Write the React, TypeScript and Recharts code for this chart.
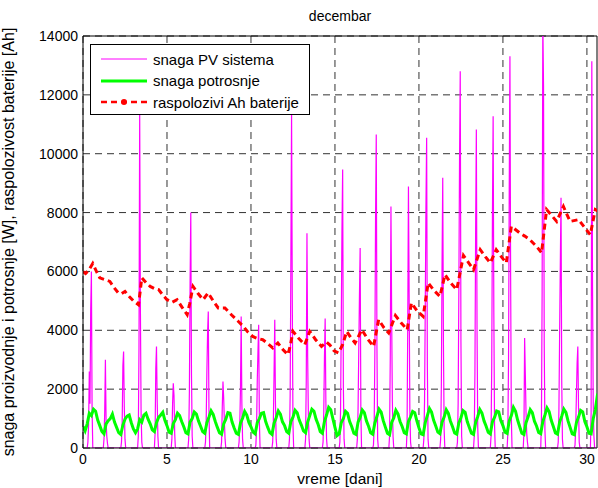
import { LineChart, Line, XAxis, YAxis, CartesianGrid, ReferenceLine, Label } from 'recharts';

// PV power per day, hourly values from 05:00 to 14:00 (zero outside)
const PV_FIRST_HOUR = 5;
const pvByDay: number[][] = [
  [0, 0, 200, 800, 2600, 1500, 4700, 6000, 1300, 0],
  [0, 300, 1200, 3000, 900, 400, 150, 0, 0, 0],
  [0, 0, 200, 900, 2800, 3280, 1400, 300, 0, 0],
  [0, 0, 400, 3400, 11400, 4800, 1200, 200, 0, 0],
  [0, 0, 500, 2700, 3450, 1600, 400, 0, 0, 0],
  [0, 0, 300, 1500, 2200, 1800, 500, 0, 0, 0],
  [0, 0, 300, 1900, 5600, 8000, 2500, 400, 0, 0],
  [0, 0, 200, 900, 2600, 3900, 4640, 1200, 0, 0],
  [0, 200, 1400, 2260, 1700, 900, 300, 0, 0, 0],
  [0, 0, 200, 800, 2000, 4470, 1500, 300, 0, 0],
  [0, 0, 100, 700, 2300, 3300, 4190, 900, 0, 0],
  [0, 0, 200, 900, 2600, 4360, 1500, 300, 0, 0],
  [0, 0, 300, 1800, 6400, 11400, 5200, 800, 0, 0],
  [0, 300, 2300, 7300, 3100, 1100, 300, 0, 0, 0],
  [0, 0, 200, 1200, 3100, 4400, 1600, 300, 0, 0],
  [0, 0, 200, 1300, 4200, 7400, 9460, 2100, 300, 0],
  [0, 0, 0, 300, 1300, 3300, 5200, 6800, 1200, 0],
  [0, 0, 100, 700, 3200, 7800, 10650, 3400, 300, 0],
  [0, 400, 3000, 8210, 4500, 1600, 400, 0, 0, 0],
  [0, 0, 600, 4200, 8890, 5200, 1300, 200, 0, 0],
  [0, 0, 300, 1600, 4700, 8200, 10540, 2800, 300, 0],
  [0, 0, 300, 2100, 6200, 9180, 3500, 600, 0, 0],
  [0, 0, 200, 1500, 5300, 9800, 12800, 3600, 400, 0],
  [0, 0, 400, 2600, 7400, 10820, 4000, 700, 0, 0],
  [0, 0, 400, 2800, 7900, 11270, 4600, 800, 0, 0],
  [0, 0, 500, 3000, 8800, 13310, 5800, 1000, 0, 0],
  [0, 500, 3740, 2500, 1200, 500, 200, 0, 0, 0],
  [0, 0, 900, 5300, 14500, 12300, 3500, 600, 0, 0],
  [0, 0, 200, 1300, 3900, 6300, 8500, 2300, 300, 0],
  [0, 0, 100, 700, 1800, 2900, 3450, 1400, 200, 0],
  [0, 1200, 13140, 5500, 1500, 400, 0, 0, 0, 0],
];

// consumption per day, every 3 hours (00, 03, ... 21)
const loadByDay: number[][] = [
  [730, 580, 820, 1180, 1100, 1320, 1250, 950],
  [760, 560, 480, 820, 930, 1000, 1150, 880],
  [700, 520, 460, 780, 980, 1080, 1120, 860],
  [650, 520, 650, 960, 880, 1120, 1180, 980],
  [820, 620, 560, 860, 1040, 1120, 1210, 940],
  [760, 540, 500, 830, 960, 1180, 1100, 900],
  [720, 520, 480, 880, 1000, 1220, 1150, 920],
  [740, 560, 500, 860, 1050, 1260, 1140, 900],
  [700, 520, 470, 820, 980, 1200, 1180, 880],
  [680, 500, 460, 840, 1010, 1240, 1120, 870],
  [720, 540, 480, 860, 1000, 1180, 1200, 900],
  [700, 520, 460, 840, 1030, 1260, 1150, 890],
  [760, 560, 500, 900, 1050, 1280, 1200, 950],
  [780, 580, 520, 880, 1100, 1320, 1250, 980],
  [800, 560, 500, 900, 1120, 1380, 1300, 1000],
  [700, 420, 480, 860, 1000, 1250, 1180, 900],
  [720, 500, 460, 880, 1040, 1290, 1200, 920],
  [740, 520, 470, 850, 1080, 1320, 1220, 930],
  [710, 500, 450, 870, 1020, 1280, 1160, 900],
  [730, 520, 480, 900, 1060, 1240, 1200, 920],
  [690, 480, 450, 860, 1100, 1340, 1220, 940],
  [750, 540, 490, 880, 1050, 1300, 1180, 910],
  [720, 510, 470, 850, 1030, 1270, 1210, 900],
  [700, 500, 460, 870, 1070, 1310, 1190, 920],
  [740, 530, 480, 890, 1040, 1260, 1230, 930],
  [760, 540, 500, 920, 1100, 1380, 1250, 950],
  [720, 500, 460, 860, 1060, 1300, 1200, 910],
  [750, 530, 490, 900, 1120, 1360, 1240, 940],
  [730, 510, 470, 880, 1080, 1320, 1210, 920],
  [700, 480, 450, 860, 1050, 1280, 1230, 900],
  [720, 500, 480, 1000, 1300, 1800, 1800, 1800],
];

// available battery capacity [Ah], (day, value)
const batteryPoints: [number, number][] = [
  [0, 5990], [0.15, 5930], [0.35, 6050], [0.58, 6270], [0.8, 6000], [1.0, 5780], [1.3, 5720],
  [1.6, 5660], [1.85, 5450], [2.1, 5270], [2.3, 5250], [2.5, 5320], [2.75, 5150], [3.0, 5000],
  [3.3, 4870], [3.4, 5300], [3.5, 5780], [3.75, 5620], [4.0, 5490], [4.25, 5420], [4.5, 5380],
  [4.75, 5200], [5.0, 5040], [5.3, 4950], [5.6, 5040], [5.9, 4780], [6.2, 4530], [6.35, 4900],
  [6.55, 5490], [6.85, 5250], [7.15, 5040], [7.45, 5270], [7.75, 5000], [8.05, 4760], [8.45, 4760],
  [8.85, 4520], [9.25, 4300], [9.55, 4130], [9.8, 3950], [10.1, 3790], [10.4, 3720], [10.7, 3680],
  [11.0, 3550], [11.3, 3400], [11.6, 3570], [11.9, 3350], [12.2, 3170], [12.35, 3500], [12.5, 3960],
  [12.85, 3720], [13.2, 3510], [13.5, 3960], [13.85, 3680], [14.2, 3450], [14.5, 3600], [14.7, 3500],
  [14.95, 3300], [15.2, 3230], [15.45, 3500], [15.7, 3960], [15.95, 3750], [16.2, 3570], [16.6, 4020],
  [16.95, 3700], [17.3, 3450], [17.6, 4360], [17.9, 4100], [18.2, 3910], [18.6, 4500], [18.95, 4250],
  [19.3, 4020], [19.55, 4930], [19.9, 4650], [20.25, 4470], [20.55, 5610], [20.9, 5350], [21.25, 5150],
  [21.55, 5890], [21.9, 5600], [22.25, 5380], [22.65, 6540], [22.95, 6300], [23.25, 6060], [23.65, 6740],
  [23.95, 6500], [24.25, 6290], [24.6, 6740], [24.9, 6500], [25.2, 6290], [25.5, 7530], [26.0, 7310],
  [26.3, 7200], [26.6, 7080], [27.0, 6850], [27.3, 6630], [27.6, 8100], [27.9, 7900], [28.2, 7700],
  [28.6, 8210], [28.8, 7950], [29.0, 7700], [29.5, 7760], [29.85, 7500], [30.2, 7250], [30.5, 8100],
  [30.65, 8050],
];

const xTicks = [0, 5, 10, 15, 20, 25, 30];
const yTicks = [0, 2000, 4000, 6000, 8000, 10000, 12000, 14000];
const X_MAX = 30.6;

const pvData = pvByDay.flatMap((row, d) =>
  row.map((v, i) => ({ t: d + (PV_FIRST_HOUR + i) / 24, v }))
);
const loadData = loadByDay.flatMap((row, d) => row.map((v, i) => ({ t: d + (i * 3) / 24, v })));
const batteryData = batteryPoints.map(([t, v]) => ({ t, v }));

const font = '"Liberation Sans", Arial, sans-serif';

function LegendBox() {
  const rows = [
    { label: 'snaga PV sistema', color: '#ff00ff', width: 1, dash: undefined as string | undefined, dot: false },
    { label: 'snaga potrosnje', color: '#00ff00', width: 3, dash: undefined, dot: false },
    { label: 'raspolozivi Ah baterije', color: '#ff0000', width: 2.5, dash: '6 4', dot: true },
  ];
  return (
    <div
      style={{
        position: 'absolute',
        left: 90,
        top: 44,
        width: 220,
        height: 71,
        border: '1px solid #000',
        background: '#fff',
        boxSizing: 'border-box',
        fontSize: 15,
      }}
    >
      {rows.map((r, i) => (
        <div key={r.label} style={{ position: 'absolute', left: 9, top: 4 + i * 21.5, height: 20, display: 'flex', alignItems: 'center' }}>
          <svg width={48} height={20}>
            <line x1={1} y1={10} x2={47} y2={10} stroke={r.color} strokeWidth={r.width} strokeDasharray={r.dash} />
            {r.dot && <circle cx={24} cy={10} r={3} fill={r.color} />}
          </svg>
          <span style={{ marginLeft: 5, whiteSpace: 'nowrap' }}>{r.label}</span>
        </div>
      ))}
    </div>
  );
}

export default function App() {
  return (
    <div style={{ position: 'absolute', left: 0, top: 0, width: 598, height: 488, background: '#fff', fontFamily: font, overflow: 'hidden' }}>
      <div style={{ position: 'absolute', left: 83, width: 514, top: 8, textAlign: 'center', fontSize: 14 }}>decembar</div>
      <LineChart width={598} height={488} margin={{ top: 36, right: 1, bottom: 0, left: 0 }}>
        <CartesianGrid stroke="#333" strokeDasharray="7 5" horizontalValues={yTicks} verticalValues={xTicks} />
        <XAxis
          dataKey="t"
          type="number"
          domain={[0, X_MAX]}
          ticks={xTicks}
          allowDataOverflow
          height={40}
          tickLine={false}
          tickSize={4}
          tickMargin={2}
          axisLine={{ stroke: '#000' }}
          tick={{ fill: '#000', fontSize: 14, fontFamily: font }}
        >
          <Label value="vreme [dani]" position="insideBottom" offset={4} style={{ fill: '#000', fontSize: 15.5, fontFamily: font }} />
        </XAxis>
        <YAxis
          type="number"
          domain={[0, 14000]}
          ticks={yTicks}
          allowDataOverflow
          width={83}
          tickLine={false}
          tickSize={4}
          tickMargin={1}
          axisLine={{ stroke: '#000' }}
          tick={{ fill: '#000', fontSize: 14, fontFamily: font }}
        >
          <Label
            value="snaga proizvodnje i potrosnje [W], raspolozivost baterije [Ah]"
            angle={-90}
            position="insideLeft"
            offset={8}
            style={{ fill: '#000', fontSize: 16, fontFamily: font, textAnchor: 'middle' }}
          />
        </YAxis>
        <ReferenceLine y={14000} stroke="#000" />
        <ReferenceLine x={X_MAX} stroke="#000" />
        <Line data={pvData} dataKey="v" type="linear" stroke="#ff00ff" strokeWidth={1.2} dot={false} isAnimationActive={false} />
        <Line data={loadData} dataKey="v" type="linear" stroke="#00ff00" strokeWidth={3} dot={false} isAnimationActive={false} />
        <Line
          data={batteryData}
          dataKey="v"
          type="linear"
          stroke="#ff0000"
          strokeWidth={3}
          strokeDasharray="6 4"
          dot={false}
          isAnimationActive={false}
        />
      </LineChart>
      <LegendBox />
    </div>
  );
}
